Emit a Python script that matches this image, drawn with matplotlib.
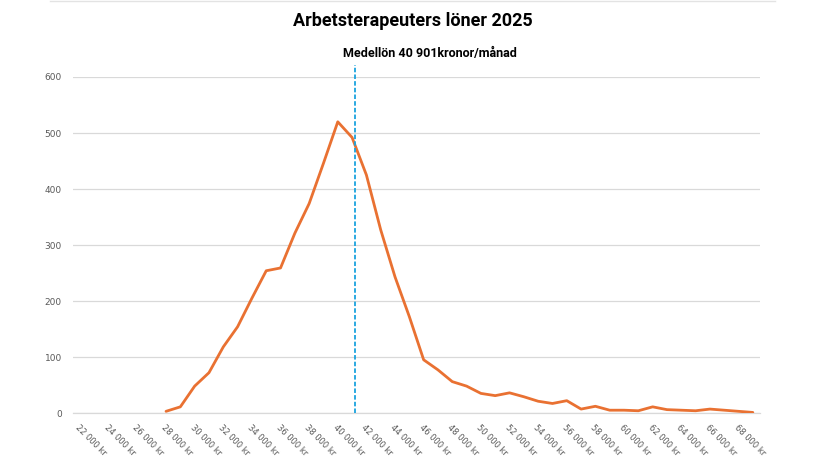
import matplotlib
matplotlib.use("Agg")
import matplotlib.pyplot as plt
from matplotlib.lines import Line2D

# Data
salaries = list(range(28000, 70000, 1000))
counts = [3, 11, 48, 72, 118, 154, 205, 254, 259, 321, 374, 446, 520, 492,
          425, 327, 243, 172, 95, 77, 56, 48, 35, 31, 36, 29, 21, 17, 22, 7,
          12, 5, 5, 4, 11, 6, 5, 4, 7, 5, 3, 1]
tick_values = list(range(22000, 70000, 2000))
tick_labels = [f"{v // 1000} 000 kr" for v in tick_values]
median_x = 41200
median_label = "Medellön 40 901kronor/månad"
title = "Arbetsterapeuters löner 2025"

fig = plt.figure(figsize=(8.25, 4.65), dpi=100)
ax = fig.add_axes([73/825, 1-413/465, (760-73)/825, (413-77)/465])

ax.plot(salaries, counts, color="#E97132", lw=2.0, solid_capstyle="round", zorder=3)
ax.plot([median_x, median_x], [0, 622], color="#1AA3DE", lw=1.3,
        ls=(0, (2.5, 1.2)), clip_on=False, zorder=4)

ax.set_xlim(21500, 69500)
ax.set_ylim(0, 600)
ax.set_yticks(range(0, 601, 100))
ax.set_xticks(tick_values)
ax.set_xticklabels(tick_labels, rotation=-45, ha="left", va="top",
                   rotation_mode="anchor", fontsize=6, color="#595959")
ax.tick_params(axis="y", labelsize=6.5, labelcolor="#595959", length=0, pad=8)
ax.tick_params(axis="x", length=0, pad=7)
ax.grid(axis="y", color="#D9D9D9", lw=0.9)
ax.set_axisbelow(True)
for s in ["top", "right", "left"]:
    ax.spines[s].set_visible(False)
ax.spines["bottom"].set_color("#D9D9D9")
ax.spines["bottom"].set_linewidth(0.9)

fig.text(0.5, 1-20.5/465, title, ha="center", va="center", fontsize=13,
         fontweight="bold", family="Roboto", color="#000000")
fig.text(430/825, 1-53/465, median_label, ha="center", va="center", fontsize=9,
         fontweight="bold", family="Roboto", color="#000000")

fig.add_artist(Line2D([50/825, 775/825], [1-0.8/465, 1-0.8/465], color="#E3E3E3",
                      lw=1.0, transform=fig.transFigure))

fig.savefig("out.png", dpi=100)
